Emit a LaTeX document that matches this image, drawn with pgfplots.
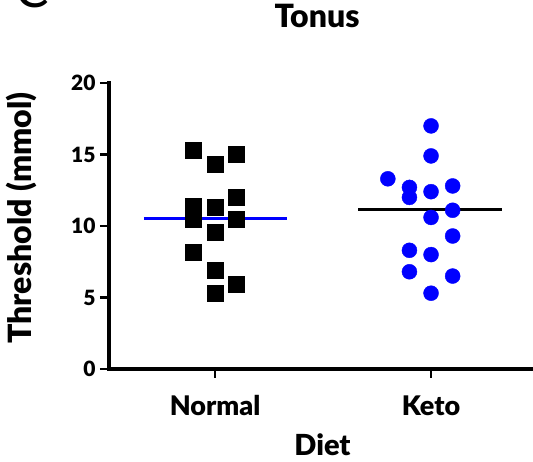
\documentclass[border=0pt]{standalone}
\usepackage{fontspec}
\setmainfont{Lato}[BoldFont={Lato Black}]
\usepackage{pgfplots}
\pgfplotsset{compat=1.18}
\begin{document}
\begin{tikzpicture}
\begin{axis}[
  at={(0pt,0pt)}, anchor=south west,
  scale only axis, width=424pt, height=286pt,
  xmin=0.509, xmax=2.472, ymin=0, ymax=20,
  axis x line=bottom, axis y line=left,
  axis line style={-, line width=3.5pt, line cap=rect},
  xtick={1,2}, xticklabels={Normal,Keto},
  ytick={0,5,10,15,20},
  tick align=outside, major tick length=9pt,
  tick style={line width=2.5pt, black},
  /pgf/number format/assume math mode=true,
  yticklabel style={font=\bfseries\fontsize{21}{21}\selectfont, anchor=east, xshift=-1pt},
  xticklabel style={font=\bfseries\fontsize{27}{27}\selectfont, anchor=center, at={(axis cs:\tick,0)}, yshift=-28pt},
  title={Tonus},
  title style={font=\bfseries\fontsize{32}{32}\selectfont, at={(rel axis cs:0.4906,1.2133)}, anchor=center},
  xlabel={Diet},
  xlabel style={font=\bfseries\fontsize{29}{29}\selectfont, at={(rel axis cs:0.5035,-0.266)}, anchor=center},
  ylabel={Threshold (mmol)},
  ylabel style={font=\bfseries\fontsize{32}{32}\selectfont, at={(rel axis cs:-0.206,0.528)}, anchor=center},
  clip=false,
]
\addplot[blue, line width=3pt] coordinates {(0.671,10.55) (1.333,10.55)};
\addplot[black, line width=3pt] coordinates {(1.662,11.15) (2.329,11.15)};
\addplot[only marks, mark=square*, mark size=8pt, black] coordinates {
(0.9,15.3) (1.0,14.3) (1.1,15.0) (1.1,12.0) (0.9,11.4) (0.9,10.5) (1.0,11.3)
(1.1,10.5) (1.0,9.6) (0.9,8.2) (1.0,6.9) (1.1,5.9) (1.0,5.3)};
\addplot[only marks, mark=*, mark size=7.5pt, blue, mark options={draw=blue, fill=blue}] coordinates {
(2.0,17.0) (2.0,14.9) (1.8,13.3) (1.9,12.7) (1.9,12.0) (2.0,12.4) (2.1,12.8)
(2.1,11.1) (2.0,10.6) (2.1,9.3) (1.9,8.3) (2.0,8.0) (1.9,6.8) (2.1,6.5) (2.0,5.3)};
\end{axis}
\node[font=\fontsize{50}{50}\selectfont, anchor=base] at (-77pt,361pt) {C};
\pgfresetboundingbox
\useasboundingbox (-109pt,-93pt) rectangle (424pt,369pt);
\end{tikzpicture}
\end{document}
